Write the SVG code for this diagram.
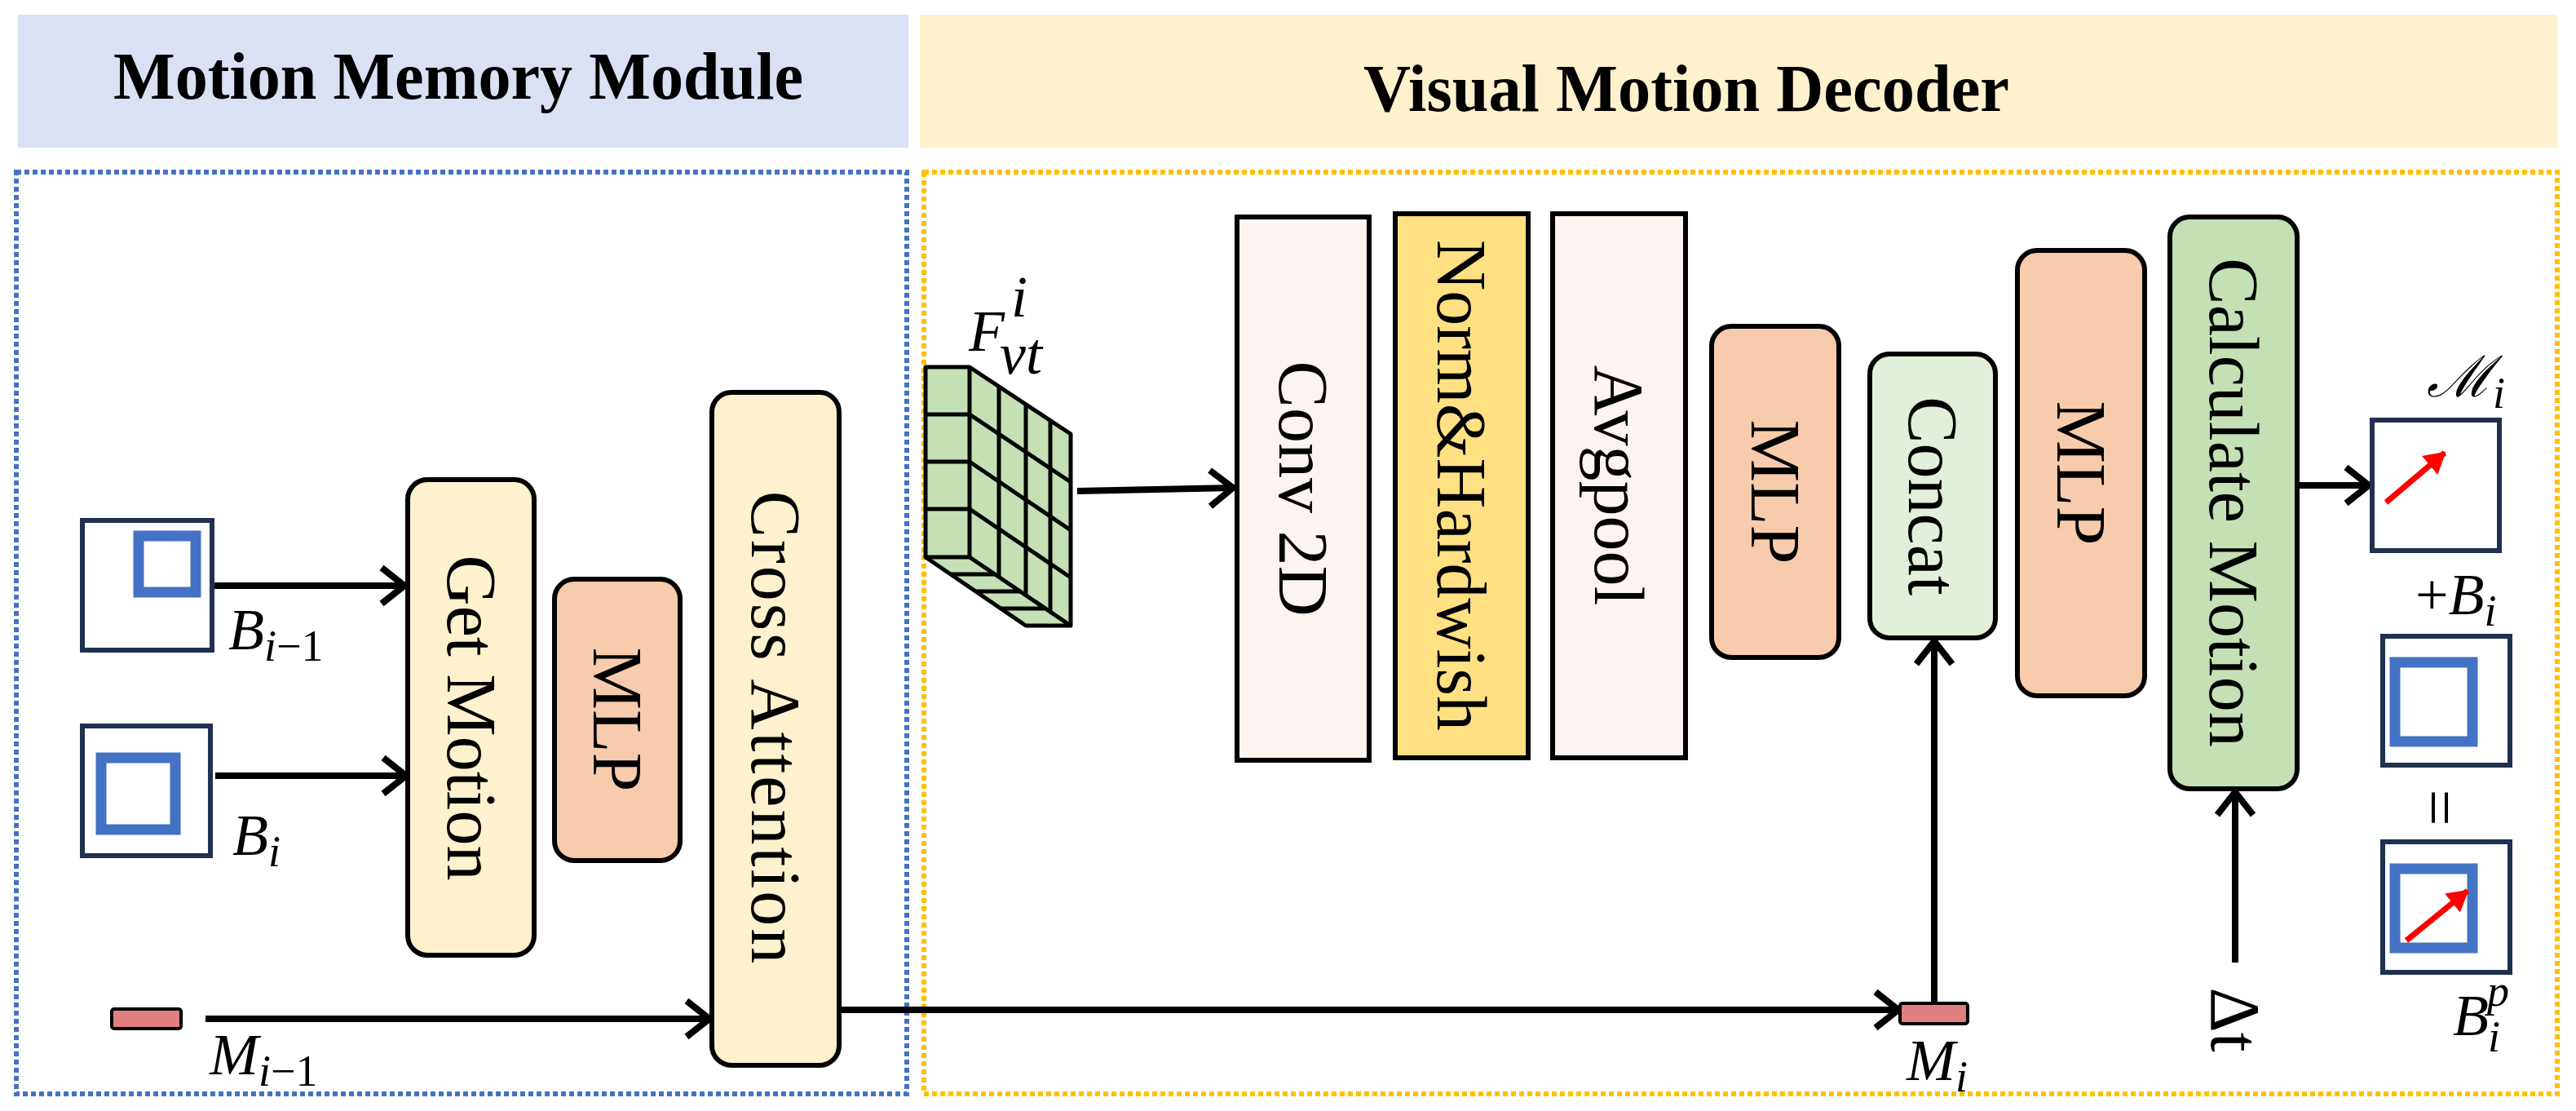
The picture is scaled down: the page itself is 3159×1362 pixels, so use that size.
<svg xmlns="http://www.w3.org/2000/svg" width="3159" height="1362" viewBox="0 0 3159 1362">
<style>
.hdr{font-family:"Liberation Serif","Times New Roman",serif;font-weight:bold;font-size:82px;fill:#000}
.vt{font-family:"Liberation Serif","Times New Roman",serif;font-size:86px;fill:#000;text-anchor:middle;dominant-baseline:central}
.m{font-family:"Liberation Serif","Times New Roman",serif;font-style:italic;font-size:72px;fill:#000}
.up{font-style:normal}
.blk{stroke:#000;stroke-width:6}
.con{stroke:#000;stroke-width:8;fill:none}
.nav{fill:#fff;stroke:#1F3050;stroke-width:6}
.inb{fill:none;stroke:#4472C4;stroke-width:13}
.red{stroke:#FF0000;stroke-width:7;fill:none}
</style>
<defs>
<marker id="ah" markerUnits="userSpaceOnUse" markerWidth="50" markerHeight="60" refX="36" refY="28" orient="auto">
<path d="M8,6 L36,28 L8,50" fill="none" stroke="#000" stroke-width="8"/>
</marker>
<marker id="rh" markerUnits="userSpaceOnUse" markerWidth="40" markerHeight="40" refX="24" refY="15" orient="auto">
<path d="M0,0 L26,15 L0,30 Z" fill="#FF0000"/>
</marker>
</defs>
<rect width="3159" height="1362" fill="#fff"/>
<g id="headers">
<rect x="22" y="18" width="1092" height="163" fill="#DAE1F3"/>
<text class="hdr" x="562" y="121" text-anchor="middle" textLength="846" lengthAdjust="spacingAndGlyphs">Motion Memory Module</text>
<rect x="1128" y="18" width="2008" height="163" fill="#FEF1CD"/>
<text class="hdr" x="2068" y="136" text-anchor="middle" textLength="792" lengthAdjust="spacingAndGlyphs">Visual Motion Decoder</text>
</g>
<g id="frames">
<rect x="20" y="211" width="1092" height="1130" fill="none" stroke="#4472C4" stroke-width="6" stroke-dasharray="6 4"/>
<rect x="1133" y="211" width="2003" height="1130" fill="none" stroke="#FFC000" stroke-width="6" stroke-dasharray="6 4"/>
</g>
<g id="connectors">
<line class="con" x1="260" y1="718" x2="496" y2="718" marker-end="url(#ah)"/>
<line class="con" x1="264" y1="951" x2="498" y2="951" marker-end="url(#ah)"/>
<line class="con" x1="252" y1="1249" x2="870" y2="1249" marker-end="url(#ah)"/>
<line class="con" x1="1029" y1="1238" x2="2328" y2="1238" marker-end="url(#ah)"/>
<line class="con" x1="1321" y1="602" x2="1512" y2="598" marker-end="url(#ah)"/>
<line class="con" x1="2372" y1="1230" x2="2372" y2="786" marker-end="url(#ah)"/>
<line class="con" x1="2741" y1="1180" x2="2741" y2="971" marker-end="url(#ah)"/>
<line class="con" x1="2817" y1="595" x2="2905" y2="595" marker-end="url(#ah)"/>
</g>
<g id="b_prev">
<rect class="nav" x="101" y="638" width="159" height="159"/>
<rect class="inb" x="170" y="657" width="70" height="69"/>
<text class="m" x="280" y="796">B<tspan font-size="54" dy="14">i</tspan><tspan class="up" font-size="54">−1</tspan></text>
</g>
<g id="b_cur">
<rect class="nav" x="101" y="890" width="157" height="159"/>
<rect class="inb" x="124" y="929" width="91" height="88"/>
<text class="m" x="285" y="1048">B<tspan font-size="54" dy="14">i</tspan></text>
</g>
<g id="get_motion">
<rect class="blk" x="500" y="588" width="155" height="583" rx="24" fill="#FEF1CD"/>
<text class="vt" transform="translate(578,880) rotate(90)">Get Motion</text>
</g>
<g id="mlp1">
<rect class="blk" x="680" y="710" width="154" height="345" rx="24" fill="#F7CBAC"/>
<text class="vt" transform="translate(757,882) rotate(90)">MLP</text>
</g>
<g id="cross_attention">
<rect class="blk" x="873" y="481" width="156" height="825" rx="24" fill="#FEF1CD"/>
<text class="vt" transform="translate(951,893) rotate(90)" letter-spacing="3">Cross Attention</text>
</g>
<g id="m_prev">
<rect x="137" y="1237" width="85" height="24" rx="3" fill="#DF7F7F" stroke="#000" stroke-width="4"/>
<text class="m" x="257" y="1317">M<tspan font-size="54" dy="14">i</tspan><tspan class="up" font-size="54">−1</tspan></text>
</g>
<g id="feature" stroke="#000" stroke-width="5" stroke-linejoin="round">
<polygon points="1135,450 1189,450 1313,532 1313,767 1258,767 1135,683" fill="#C5E0B4"/>
<polyline points="1189,450 1189,683 1313,767" fill="none"/>
<line x1="1135" y1="683" x2="1189" y2="683"/>
<line x1="1135" y1="508" x2="1189" y2="508"/>
<line x1="1135" y1="566" x2="1189" y2="566"/>
<line x1="1135" y1="624" x2="1189" y2="624"/>
<line x1="1189" y1="508" x2="1313" y2="591"/>
<line x1="1189" y1="566" x2="1313" y2="650"/>
<line x1="1189" y1="624" x2="1313" y2="708"/>
<line x1="1225" y1="474" x2="1225" y2="707"/>
<line x1="1258" y1="496" x2="1258" y2="730"/>
<line x1="1288" y1="515" x2="1288" y2="750"/>
<line x1="1166" y1="704" x2="1220" y2="704"/>
<line x1="1197" y1="725" x2="1252" y2="725"/>
<line x1="1228" y1="746" x2="1283" y2="746"/>
</g>
<g id="feature_label">
<text class="m" x="1188" y="430">F</text>
<text class="m" x="1240" y="388" font-size="50">i</text>
<text class="m" x="1226" y="458" font-size="50">vt</text>
</g>
<g id="conv2d">
<rect class="blk" x="1517" y="266" width="162" height="666" fill="#FDF3F0"/>
<text class="vt" transform="translate(1598,599) rotate(90)">Conv 2D</text>
</g>
<g id="norm_hardwish">
<rect class="blk" x="1711" y="262" width="163" height="667" fill="#FFE083"/>
<text class="vt" transform="translate(1792,595) rotate(90)">Norm&amp;Hardwish</text>
</g>
<g id="avgpool">
<rect class="blk" x="1904" y="262" width="163" height="667" fill="#FDF3F0"/>
<text class="vt" transform="translate(1985,595) rotate(90)">Avgpool</text>
</g>
<g id="mlp2">
<rect class="blk" x="2099" y="400" width="156" height="406" rx="24" fill="#F7CBAC"/>
<text class="vt" transform="translate(2177,603) rotate(90)">MLP</text>
</g>
<g id="concat">
<rect class="blk" x="2293" y="434" width="154" height="348" rx="24" fill="#E2EFDA"/>
<text class="vt" transform="translate(2370,608) rotate(90)">Concat</text>
</g>
<g id="mlp3">
<rect class="blk" x="2474" y="307" width="156" height="546" rx="24" fill="#F7CBAC"/>
<text class="vt" transform="translate(2552,580) rotate(90)">MLP</text>
</g>
<g id="calc_motion">
<rect class="blk" x="2661" y="266" width="156" height="701" rx="24" fill="#C5E0B4"/>
<text class="vt" transform="translate(2739,616) rotate(90)">Calculate Motion</text>
</g>
<g id="m_cur">
<rect x="2330" y="1230" width="83" height="25" rx="3" fill="#DF7F7F" stroke="#000" stroke-width="4"/>
<text class="m" x="2338" y="1324">M<tspan font-size="54" dy="14">i</tspan></text>
</g>
<g id="delta_t">
<text class="vt" transform="translate(2741,1250) rotate(90)" font-size="78">Δt</text>
</g>
<g id="motion_out">
<text x="2976" y="486" font-family="'DejaVu Serif',serif" font-style="italic" font-size="70">ℳ<tspan font-family="'Liberation Serif',serif" font-size="54" dy="14">i</tspan></text>
<rect class="nav" x="2909" y="515" width="156" height="160"/>
<line class="red" x1="2926" y1="616" x2="2998" y2="555" marker-end="url(#rh)"/>
</g>
<g id="b_add">
<text class="m" x="2962" y="753"><tspan class="up">+</tspan>B<tspan font-size="54" dy="14">i</tspan></text>
<rect class="nav" x="2922" y="780" width="156" height="158"/>
<rect class="inb" x="2937" y="812" width="95" height="97"/>
<text x="2992" y="990" font-family="'Liberation Serif',serif" font-size="80" text-anchor="middle" dominant-baseline="central" transform="rotate(90 2992 990)">=</text>
</g>
<g id="b_pred">
<rect class="nav" x="2922" y="1032" width="156" height="160"/>
<rect class="inb" x="2937" y="1065" width="95" height="97"/>
<line class="red" x1="2951" y1="1153" x2="3026" y2="1092" marker-end="url(#rh)"/>
<text class="m" x="3008" y="1269">B<tspan font-size="54" dx="-2" dy="-36">p</tspan><tspan font-size="54" dx="-26" dy="56">i</tspan></text>
</g>
</svg>
